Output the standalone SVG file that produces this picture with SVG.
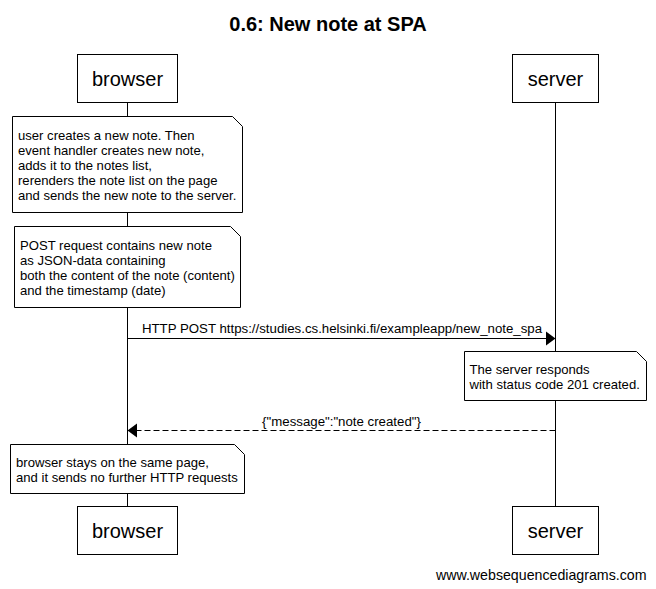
<svg xmlns="http://www.w3.org/2000/svg" width="656" height="589" viewBox="0 0 656 589">
  <style>
    text { font-family: "Liberation Sans", Arial, sans-serif; fill: #000; }
    .title { font-size: 20px; font-weight: bold; text-anchor: middle; }
    .actor rect { fill: #fff; stroke: #000; stroke-width: 1; }
    .actor text { font-size: 20px; text-anchor: middle; }
    .note path { fill: #fff; stroke: #000; stroke-width: 1; }
    .note text { font-size: 13.1px; }
    .life { stroke: #000; stroke-width: 1; fill: none; }
    .msg { stroke: #000; stroke-width: 1; fill: none; }
    .dash { stroke-dasharray: 6,3; }
    .head { fill: #000; stroke: none; }
    .lbl { font-size: 13.25px; text-anchor: middle; }
    .footer { font-size: 14.2px; text-anchor: end; }
  </style>
  <rect x="0" y="0" width="656" height="589" fill="#fff"/>
  <text class="title" x="328" y="31">0.6: New note at SPA</text>

  <g id="lifelines">
    <line class="life" x1="127.5" y1="102.5" x2="127.5" y2="506.5"/>
    <line class="life" x1="555.5" y1="102.5" x2="555.5" y2="506.5"/>
  </g>

  <g id="browser-top" class="actor">
    <rect x="77.5" y="54.5" width="100" height="48"/>
    <text x="127.5" y="85.5">browser</text>
  </g>
  <g id="server-top" class="actor">
    <rect x="512.5" y="54.5" width="86" height="48"/>
    <text x="555.5" y="85.5">server</text>
  </g>

  <g id="note1" class="note">
    <path d="M12.5,116.5 H232.5 L242.5,126.5 V212.5 H12.5 Z"/>
    <text x="18" y="139.5">user creates a new note. Then</text>
    <text x="18" y="154.5">event handler creates new note,</text>
    <text x="18" y="169.5">adds it to the notes list,</text>
    <text x="18" y="184.5">rerenders the note list on the page</text>
    <text x="18" y="199.5">and sends the new note to the server.</text>
  </g>

  <g id="note2" class="note">
    <path d="M14.5,226.5 H230.5 L240.5,236.5 V307.5 H14.5 Z"/>
    <text x="20" y="249.5">POST request contains new note</text>
    <text x="20" y="264.5">as JSON-data containing</text>
    <text x="20" y="279.5">both the content of the note (content)</text>
    <text x="20" y="294.5">and the timestamp (date)</text>
  </g>

  <g id="connectors">
    <line class="msg" x1="127.5" y1="338.5" x2="547" y2="338.5"/>
    <polygon class="head" points="546,331.5 555.5,338.5 546,345.5"/>
    <text class="lbl" x="342" y="333">HTTP POST https://studies.cs.helsinki.fi/exampleapp/new_note_spa</text>

    <line class="msg dash" x1="555.5" y1="430.5" x2="136" y2="430.5"/>
    <polygon class="head" points="137,423.5 127.5,430.5 137,437.5"/>
    <text class="lbl" x="341.5" y="426">{"message":"note created"}</text>
  </g>

  <g id="note-server" class="note">
    <path d="M464.5,351.5 H636.5 L646.5,361.5 V400.5 H464.5 Z"/>
    <text x="469.5" y="373.5">The server responds</text>
    <text x="469.5" y="388.5">with status code 201 created.</text>
  </g>

  <g id="note3" class="note">
    <path d="M10.5,444.5 H234.5 L244.5,454.5 V493.5 H10.5 Z"/>
    <text x="16" y="466.5">browser stays on the same page,</text>
    <text x="16" y="481.5">and it sends no further HTTP requests</text>
  </g>

  <g id="browser-bottom" class="actor">
    <rect x="77.5" y="506.5" width="100" height="48"/>
    <text x="127.5" y="537.5">browser</text>
  </g>
  <g id="server-bottom" class="actor">
    <rect x="512.5" y="506.5" width="86" height="48"/>
    <text x="555.5" y="537.5">server</text>
  </g>

  <text class="footer" x="646.5" y="579.5">www.websequencediagrams.com</text>
</svg>
